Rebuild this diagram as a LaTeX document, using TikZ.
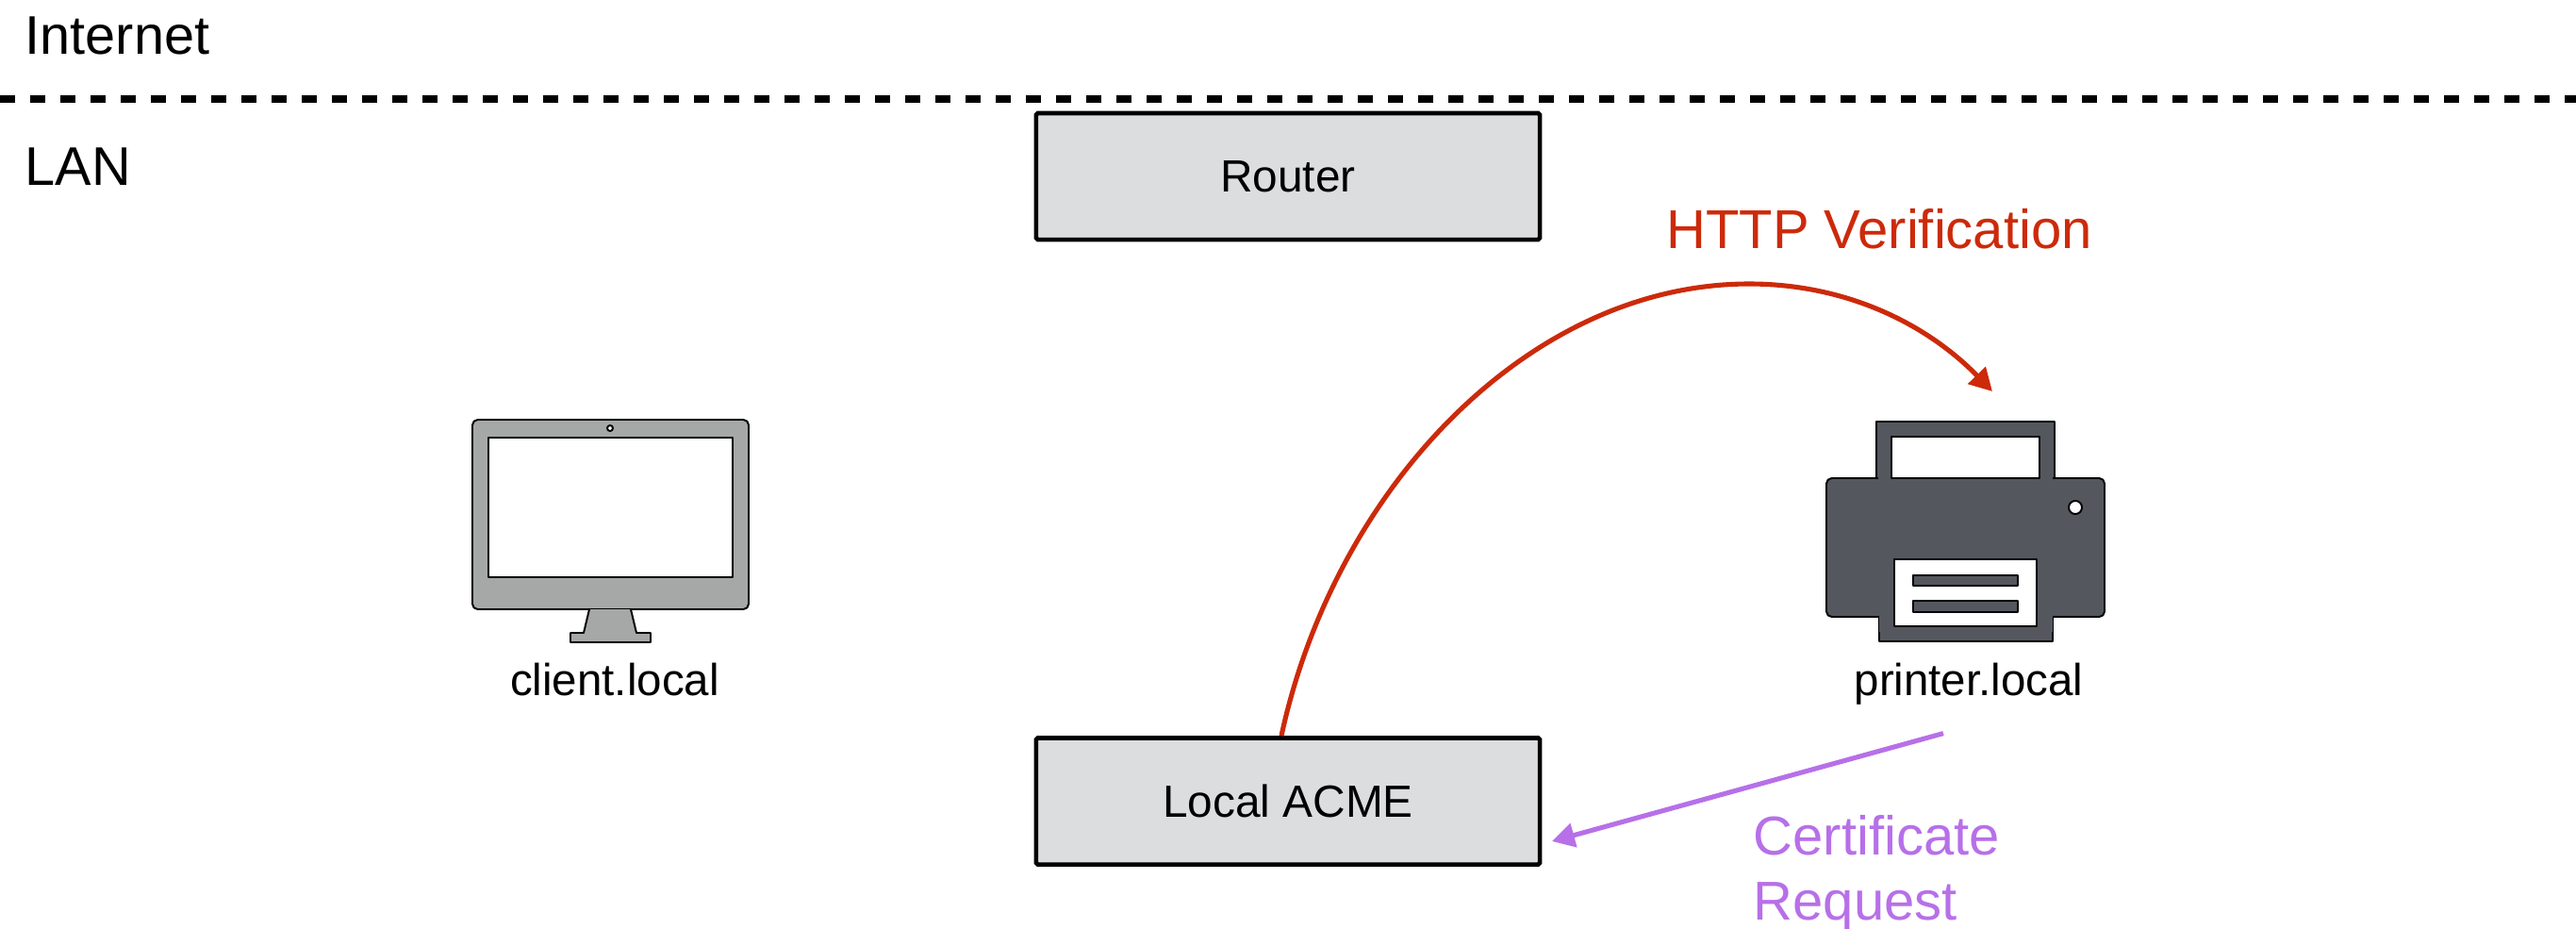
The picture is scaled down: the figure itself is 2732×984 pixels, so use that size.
\documentclass[tikz,border=0pt]{standalone}
\usepackage{fontspec}
\setmainfont{Liberation Sans}
\usetikzlibrary{positioning,arrows.meta}

\definecolor{boxgray}{HTML}{DCDDDF}
\definecolor{monitorgray}{HTML}{A5A8A6}
\definecolor{printergray}{HTML}{54575E}
\definecolor{httpred}{HTML}{CC2A0A}
\definecolor{certpurple}{HTML}{B770E8}

\tikzset{
    box/.style={draw=black, fill=boxgray, line width=1.3pt, rounded corners=0.5pt, minimum width=5.34cm, minimum height=1.34cm, inner sep=0pt, font=\fontsize{13.6}{16}\selectfont},
    zonelabel/.style={anchor=base west, inner sep=0pt, font=\fontsize{16.4}{20}\selectfont},
    hostlabel/.style={anchor=base, inner sep=0pt, font=\fontsize{13.5}{16}\selectfont},
    msglabel/.style={inner sep=0pt, font=\fontsize{16.5}{19.35}\selectfont},
    icon/.style={draw=black, line width=0.55pt, line join=round},
    arrowline/.style={line width=1.45pt, -{Triangle[length=6.8pt,width=7.2pt]}}
}

\begin{document}
\begin{tikzpicture}[x=0.01cm,y=-0.01cm]

        \useasboundingbox (0,0) rectangle (2732,984);

        \draw[line width=2.3pt, dash pattern=on 4.55pt off 4.55pt] (0,105) -- (2732,105);

        \node[zonelabel] (internet) at (26,57) {Internet};
        \node[zonelabel] (lan) at (26,196) {LAN};

        \node[box] (router) at (1366,187) {Router};
        \node[box] (acme) at (1366,849.5) {Local ACME};

        \draw[icon, fill=monitorgray, rounded corners=1.6pt] (501,445) rectangle (794,646);
        \draw[icon, fill=monitorgray] (625,646) -- (619,671) -- (605,671) -- (605,681) -- (690,681) -- (690,671) -- (675,671) -- (669,646);
        \draw[icon, fill=white] (518,464) rectangle (777,612);
        \draw[icon, fill=white] (647,454) circle (3);
        \node[hostlabel] (client) at (652,737) {client.local};

        \draw[icon, fill=printergray] (1990,507) -- (1990,447) -- (2179,447) -- (2179,507);
        \draw[icon, fill=printergray, rounded corners=1.6pt] (1937,507) rectangle (2232,654);
        \draw[icon, fill=printergray] (1993,654) -- (1993,680) -- (2177,680) -- (2177,654);
        \fill[printergray] (1993,640) rectangle (2177,670);
        \fill[printergray] (1992,495) rectangle (2177,515);
        \draw[icon, fill=white] (2006,507) -- (2006,463) -- (2163,463) -- (2163,507) -- cycle;
        \draw[icon, fill=white] (2009,593) rectangle (2160,664);
        \draw[icon, fill=printergray] (2029,610) rectangle (2140,621);
        \draw[icon, fill=printergray] (2029,637) rectangle (2140,649);
        \draw[icon, fill=white] (2201,538) circle (7);
        \node[hostlabel] (printer) at (2088,737) {printer.local};

        \coordinate (httptip) at (2113,415);
        \coordinate (certtip) at (1646,892);

        \draw[arrowline, draw=httpred] ([xshift=-0.07cm]acme.north) .. controls (1415,520) and (1620,301) .. (1855,301) .. controls (1960,301) and (2045,345) .. (httptip);
        \draw[arrowline, draw=certpurple] ([xshift=-0.27cm,yshift=-0.30cm]printer.south) -- (certtip);

        \node[msglabel, text=httpred, anchor=base] (http) at (1993,263) {HTTP Verification};
        \node[msglabel, text=certpurple, anchor=base west, align=left] (cert) at (1859,975) {Certificate\\Request};

\end{tikzpicture}
\end{document}
